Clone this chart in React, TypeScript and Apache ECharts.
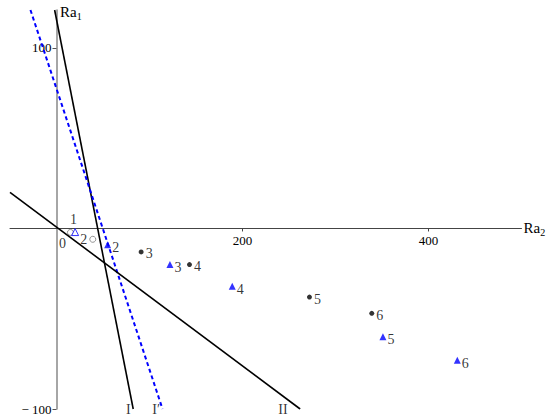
import { useEffect, useRef } from "react";
import * as echarts from "echarts";

// Circles (Ra2, Ra1)
const circleNames = ["1", "2", "3", "4", "5", "6"];
const circleRa2 = [15, 39, 91, 143, 272, 339];
const circleRa1 = [-2.2, -6, -13, -20, -38, -47];
const circleOpen = [true, true, false, false, false, false];

// Triangles (Ra2, Ra1)
const triangleNames = ["", "2", "3", "4", "5", "6"];
const triangleRa2 = [20, 55, 122, 189, 351, 431];
const triangleRa1 = [-2, -9, -20, -32, -60, -73];
const triangleOpen = [true, false, false, false, false, false];

// Lines (Ra2, Ra1 endpoints)
const lineI = [[-2, 121], [82.5, -100]];
const lineIPrime = [[-28, 121], [114, -100]];
const lineII = [[-50, 20], [262, -100]];
const lineNames = ["I", "I\u2032", "II"];

const xTicks = [200, 400];
const yTicks = [100, -100];

const FONT = "'Liberation Serif', 'Times New Roman', serif";

const X_MIN = -50;
const X_MAX = 500;
const Y_MIN = -100;
const Y_MAX = 121;
const GRID_LEFT = 10;
const GRID_TOP = 10;
const GRID_W = 511.5;
const GRID_H = 399;

export default function App() {
  const ref = useRef<HTMLDivElement>(null);
  useEffect(() => {
    const chart = echarts.init(ref.current!, null, { renderer: "svg" });
    // place axes through the origin via offsets
    const xZeroPx = ((0 - X_MIN) / (X_MAX - X_MIN)) * GRID_W; // from grid left
    const yZeroPx = ((0 - Y_MIN) / (Y_MAX - Y_MIN)) * GRID_H; // from grid bottom
    const circleData = circleRa2.map((x, i) => {
      const open = circleOpen[i];
      let pos: any = "right";
      let offset = [0, 2];
      if (i === 0) { pos = "top"; offset = [3, 0]; }
      if (i === 1) { pos = "left"; offset = [0, 0]; }
      return {
        value: [x, circleRa1[i]],
        name: circleNames[i],
        symbolSize: open ? 6 : 5,
        itemStyle: open
          ? { color: "#fff", borderColor: "#777", borderWidth: 1 }
          : { color: "#000" },
        label: { show: true, position: pos, offset, distance: 2, formatter: circleNames[i] },
      };
    });
    const triData = triangleRa2.map((x, i) => {
      const open = triangleOpen[i];
      return {
        value: [x, triangleRa1[i]],
        name: triangleNames[i],
        symbolSize: 7,
        itemStyle: open
          ? { color: "#fff", borderColor: "#0000ff", borderWidth: 1 }
          : { color: "#0000ff" },
        label: { show: triangleNames[i] !== "", position: "right", offset: [0, 3], distance: 1, formatter: triangleNames[i] },
      };
    });
    const lines = [lineI, lineIPrime, lineII];
    const labelOffsets = [[0, 0], [0, 0], [-10, 0]];
    const option: any = {
      animation: false,
      grid: { left: GRID_LEFT, top: GRID_TOP, width: GRID_W, height: GRID_H, outerBoundsMode: "none", containLabel: false },
      xAxis: {
        type: "value",
        min: X_MIN,
        max: X_MAX,
        position: "bottom",
        offset: -yZeroPx,
        axisLine: { onZero: false, lineStyle: { color: "#444", width: 1 } },
        axisTick: { show: true, customValues: xTicks, length: 3, lineStyle: { color: "#444" } },
        axisLabel: { customValues: xTicks, color: "#000", fontFamily: FONT, fontSize: 13, margin: 6 },
        splitLine: { show: false },
        name: "{b|Ra}{s|2}",
        nameLocation: "end",
        nameGap: 2,
        nameTextStyle: {
          color: "#000",
          fontFamily: FONT,
          rich: {
            b: { fontSize: 15, fontFamily: FONT, color: "#000" },
            s: { fontSize: 10, fontFamily: FONT, color: "#000", padding: [9, 0, 0, 0] },
          },
        },
      },
      yAxis: {
        type: "value",
        min: Y_MIN,
        max: Y_MAX,
        position: "left",
        offset: -xZeroPx,
        axisLine: { onZero: false, lineStyle: { color: "#888", width: 1.5 } },
        axisTick: { show: true, customValues: yTicks, length: 4, lineStyle: { color: "#555" } },
        axisLabel: {
          customValues: yTicks,
          color: "#000",
          fontFamily: FONT,
          fontSize: 13,
          margin: 5,
          formatter: (v: number) => (v < 0 ? "\u2212 " + Math.abs(v) : String(v)),
        },
        splitLine: { show: false },
      },
      graphic: [
        {
          type: "text",
          left: 60,
          top: 4,
          style: {
            text: "{b|Ra}{s|1}",
            fontFamily: FONT,
            rich: {
              b: { fontSize: 15, fontFamily: FONT, fill: "#000" },
              s: { fontSize: 10, fontFamily: FONT, fill: "#000", padding: [9, 0, 0, 0] },
            },
          },
        },
      ],
      series: [
        ...lines.map((ln, k) => ({
          type: "line",
          data: ln,
          symbol: "none",
          silent: true,
          lineStyle:
            k === 1
              ? { color: "#0000ff", width: 2, type: [4, 3] }
              : { color: "#000", width: 1.6 },
        })),
        {
          type: "scatter",
          silent: true,
          symbolSize: 1,
          itemStyle: { color: "transparent" },
          label: { show: true, color: "#000", fontFamily: FONT, fontSize: 14 },
          data: lines.map((ln, k) => ({
            value: ln[1],
            label: { position: "left", distance: 2, offset: labelOffsets[k], formatter: lineNames[k] },
          })),
        },
        {
          type: "scatter",
          silent: true,
          symbolSize: 1,
          itemStyle: { color: "transparent" },
          label: { show: true, color: "#000", fontFamily: FONT, fontSize: 14 },
          data: [{ value: [0, 0], label: { position: "bottom", offset: [6, 3], formatter: "0" } }],
        },
        {
          type: "scatter",
          symbol: "circle",
          label: { color: "#000", fontFamily: FONT, fontSize: 14 },
          data: circleData,
        },
        {
          type: "scatter",
          symbol: "triangle",
          label: { color: "#000", fontFamily: FONT, fontSize: 14 },
          data: triData,
        },
      ],
    };
    chart.setOption(option);
    return () => chart.dispose();
  }, []);
  return (
    <div
      ref={ref}
      style={{ position: "fixed", left: 0, top: 0, width: 550, height: 420, background: "#fff" }}
    />
  );
}
